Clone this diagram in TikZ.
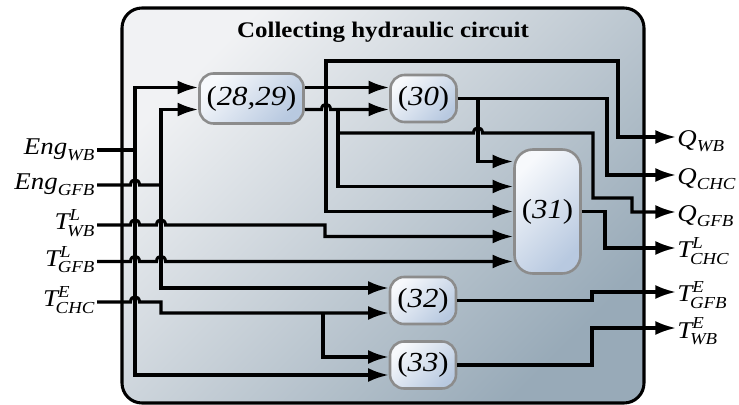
\documentclass[tikz,border=0pt]{standalone}
\usepackage{amsmath}
\usepackage{fontspec}
\setmainfont{Liberation Serif}[FakeStretch=1.12]
\usetikzlibrary{calc,arrows.meta}

\definecolor{boxlight}{RGB}{241,242,244}
\definecolor{boxdark}{RGB}{152,170,184}
\definecolor{blklight}{RGB}{247,249,252}
\definecolor{blkdark}{RGB}{184,201,224}
\definecolor{blkedge}{RGB}{140,140,140}

\begin{document}
\begin{tikzpicture}[x=0.03cm,y=-0.03cm,
  wire/.style={line width=2.6pt},
  arr/.style={-{Latex[length=0.62cm,width=0.42cm]}},
  hop/.style 2 args={insert path={-- (#1-4.5,#2) .. controls (#1-4.5,#2-7) and (#1+4.5,#2-7) .. (#1+4.5,#2)}},
  blk/.style={draw=blkedge,line width=2.2pt,rounded corners=0.42cm,top color=blklight,bottom color=blkdark,shading angle=45,inner sep=0pt,font=\fontsize{23.5}{26}\selectfont},
  inlbl/.style={anchor=base east,inner sep=1.5pt,font=\fontsize{20.5}{22}\selectfont},
  outlbl/.style={anchor=base west,inner sep=1pt,font=\fontsize{20.5}{22}\selectfont}]
\useasboundingbox (0,0) rectangle (739,405);
\draw[line width=2.6pt,rounded corners=0.6cm,top color=boxlight,bottom color=boxdark,shading angle=45] (122,8) rectangle (644,403);
\node[font=\fontsize{19}{21}\selectfont\bfseries,anchor=base] (title) at (383,38) {Collecting hydraulic circuit};
% blocks
\node[blk,minimum width=3.12cm,minimum height=1.5cm] (b2829) at (251.5,98.5) {(\textit{28,29})};
\node[blk,minimum width=1.98cm,minimum height=1.41cm] (b30) at (423.5,98.5) {(\textit{30})};
\node[blk,minimum width=1.98cm,minimum height=3.72cm,rounded corners=0.55cm] (b31) at (547.5,211.5) {(\textit{31})};
\node[blk,minimum width=1.98cm,minimum height=1.41cm] (b32) at (423,300.5) {(\textit{32})};
\node[blk,minimum width=1.98cm,minimum height=1.41cm] (b33) at (423,365) {(\textit{33})};
% inputs
\node[inlbl] (iEngWB) at (97,155) {$\textit{Eng}_{\textit{WB}}$};
\node[inlbl] (iEngGFB) at (97,190) {$\textit{Eng}_{\textit{GFB}}$};
\node[inlbl] (iTLWB) at (97,230) {$\textit{T}^{\textit{L}}_{\kern-2pt\textit{WB}}$};
\node[inlbl] (iTLGFB) at (97,266.5) {$\textit{T}^{\textit{L}}_{\kern-2pt\textit{GFB}}$};
\node[inlbl] (iTECHC) at (97,307) {$\textit{T}^{\textit{E}}_{\kern-2pt\textit{CHC}}$};
% outputs
\node[outlbl] (oQWB) at (676,147) {$\textit{Q}_{\textit{WB}}$};
\node[outlbl] (oQCHC) at (676,185) {$\textit{Q}_{\textit{CHC}}$};
\node[outlbl] (oQGFB) at (676,222) {$\textit{Q}_{\textit{GFB}}$};
\node[outlbl] (oTLCHC) at (676,258) {$\textit{T}^{\textit{L}}_{\kern-2pt\textit{CHC}}$};
\node[outlbl] (oTEGFB) at (676,302) {$\textit{T}^{\textit{E}}_{\kern-2pt\textit{GFB}}$};
\node[outlbl] (oTEWB) at (676,338) {$\textit{T}^{\textit{E}}_{\kern-2pt\textit{WB}}$};
% input wires
\draw[wire] ($(iEngWB.base east)+(0,-5)$) -- (135,150);
\draw[wire,arr] (135,150) |- ($(b2829.west)+(0,-11)$);
\draw[wire,arr] (135,150) |- ($(b33.west)+(0,10)$);
\draw[wire] ($(iEngGFB.base east)+(0,-5)$) [hop={135}{185}] -- (161,185);
\draw[wire,arr] (161,185) |- ($(b2829.west)+(0,11)$);
\draw[wire,arr] (161,185) |- ($(b32.west)+(0,-12.5)$);
\draw[wire,arr] ($(iTLWB.base east)+(0,-5)$) [hop={135}{225}] [hop={161}{225}] -- (325,225) |- ($(b31.west)+(0,25)$);
\draw[wire,arr] ($(iTLGFB.base east)+(0,-5)$) [hop={135}{261.5}] [hop={161}{261.5}] -- ($(b31.west)+(0,50)$);
\draw[wire,arr] ($(iTECHC.base east)+(0,-5)$) [hop={135}{302}] -- (161,302) |- ($(b32.west)+(0,12.5)$);
\draw[wire,arr] (323,313) |- ($(b33.west)+(0,-8)$);
% (28,29) outputs
\draw[wire,arr] ($(b2829.east)+(0,-11)$) -- ($(b30.west)+(0,-11)$);
\draw[wire,arr] (326,87.5) |- (618,61) |- ($(oQWB.base west)+(0,-10)$);
\draw[wire,arr] (326,87.5) |- (b31.west);
\draw[wire,arr] ($(b2829.east)+(0,11)$) [hop={326}{109.5}] -- ($(b30.west)+(0,11)$);
\draw[wire,arr] (338,109.5) |- ($(b31.west)+(0,-25)$);
\draw[wire,arr] (338,133) [hop={478}{133}] -- (593,133) |- (632,198) |- ($(oQGFB.base west)+(0,-10)$);
% block outputs
\draw[wire,arr] (b30.east) -- (607,98.5) |- ($(oQCHC.base west)+(0,-10)$);
\draw[wire,arr] (478,98.5) |- ($(b31.west)+(0,-50)$);
\draw[wire,arr] (b31.east) -- (605,211.5) |- ($(oTLCHC.base west)+(0,-10)$);
\draw[wire,arr] (b32.east) -- (592,300.5) |- ($(oTEGFB.base west)+(0,-10)$);
\draw[wire,arr] (b33.east) -- (592,365) |- ($(oTEWB.base west)+(0,-10)$);
\end{tikzpicture}
\end{document}
